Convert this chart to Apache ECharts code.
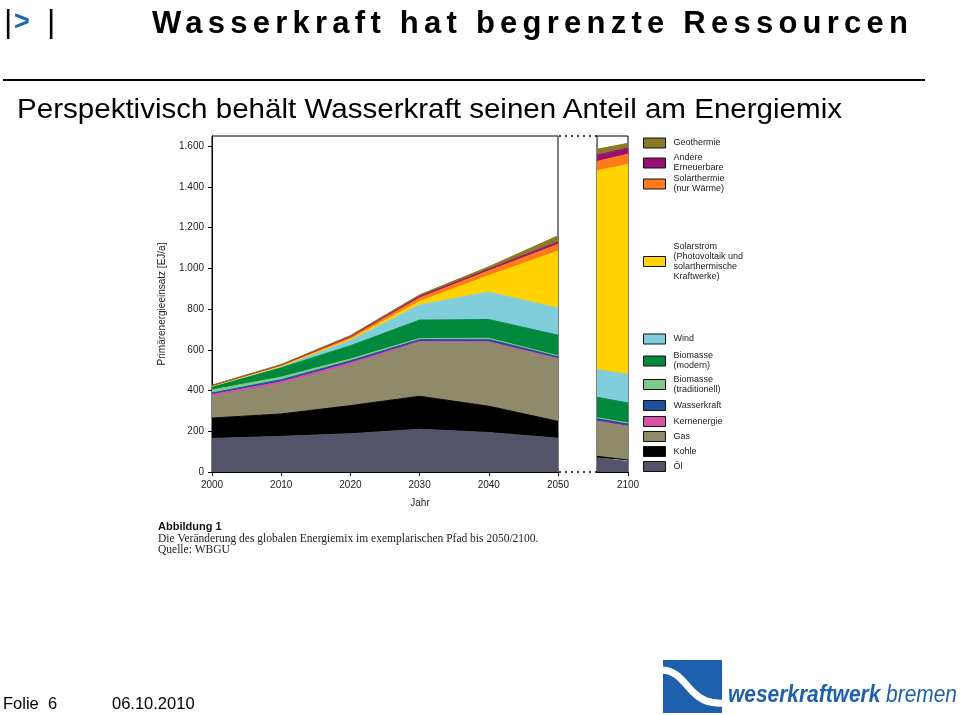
<!DOCTYPE html>
<html><head><meta charset="utf-8">
<script src="https://cdn.jsdelivr.net/npm/echarts@6/dist/echarts.min.js"></script>
<style>
html,body{margin:0;padding:0;background:#fff;width:960px;height:715px;overflow:hidden;}
#chart{position:absolute;left:0;top:0;width:960px;height:715px;}
.t{position:absolute;white-space:nowrap;color:#000;line-height:1;transform-origin:0 0;}
</style></head><body>
<div id="chart"></div>
<div class="t" style="left:4px;top:3px;font:32px 'Liberation Sans';">|</div>
<div class="t" style="left:14px;top:6px;font:bold 27px 'Liberation Sans';color:#1e63b8;">&gt;</div>
<div class="t" style="left:47px;top:3px;font:32px 'Liberation Sans';">|</div>
<div class="t" id="title" style="left:152px;top:5px;font:bold 31px 'Liberation Sans Narrow','Liberation Sans';">Wasserkraft hat begrenzte Ressourcen</div>
<div style="position:absolute;left:3px;top:79px;width:922px;height:2px;background:#000;"></div>
<div class="t" id="sub" style="left:17px;top:93px;font:28px 'Liberation Sans Narrow','Liberation Sans';">Perspektivisch behält Wasserkraft seinen Anteil am Energiemix</div>
<div class="t" id="folie" style="left:3px;top:694px;font:16.5px 'Liberation Sans';">Folie&nbsp; 6</div>
<div class="t" id="datum" style="left:112px;top:694px;font:16.5px 'Liberation Sans';">06.10.2010</div>
<svg style="position:absolute;left:663px;top:660px;" width="60" height="54" viewBox="0 0 60 54">
  <rect x="0" y="0" width="59" height="53" fill="#1e5fae"/>
  <path d="M-2,10 C14,10 20,22 30,32 C38,40 46,44 62,43" stroke="#fff" stroke-width="7" fill="none"/>
</svg>
<div class="t" id="logo" style="left:728px;top:680px;font:italic 24px 'Liberation Sans';color:#1e5fae;"><b>weserkraftwerk</b> bremen</div>
<script>
// ---- data (EJ/a per energy source) ----
const years = ['2000', '2010', '2020', '2030', '2040', '2050'];
const yearsLate = ['2095', '2100'];

const oel           = [165, 175, 188, 210, 194, 166];
const kohle         = [100, 110, 138, 162, 129, 83];
const gas           = [105, 147, 199, 264, 315, 307];
const kernenergie   = [10, 11, 11, 5, 2, 1];
const wasserkraft   = [8, 10, 10, 10, 12, 12];
const bioTrad       = [15, 13, 9, 5, 5, 2];
const bioModern     = [17, 46, 65, 90, 92, 101];
const wind          = [1, 5, 25, 74, 134, 133];
const solarstrom    = [1, 2, 7, 18, 82, 280];
const solarthermie  = [2, 5, 10, 17, 23, 33];
const andere        = [1, 2, 3, 7, 8, 12];
const geothermie    = [1, 2, 5, 8, 12, 30];

const oelLate          = [69, 52];
const kohleLate        = [8, 7];
const gasLate          = [172, 165];
const kernenergieLate  = [1, 1];
const wasserkraftLate  = [14, 13];
const bioTradLate      = [3, 3];
const bioModernLate    = [100, 98];
const windLate         = [136, 140];
const solarstromLate   = [976, 1032];
const solarthermieLate = [46, 50];
const andereLate       = [32, 29];
const geothermieLate   = [28, 24];

const yTicks = [0, 200, 400, 600, 800, 1000, 1200, 1400, 1600];

// stacking order bottom -> top; h = half height of legend slot, shift = downward text offset
const sources = [
  {name:'Öl', label:'Öl', color:'#53546a', d:oel, l:oelLate, h:7.5},
  {name:'Kohle', label:'Kohle', color:'#000000', d:kohle, l:kohleLate, h:7.5},
  {name:'Gas', label:'Gas', color:'#8f8a69', d:gas, l:gasLate, h:7.5},
  {name:'Kernenergie', label:'Kernenergie', color:'#d94fa6', d:kernenergie, l:kernenergieLate, h:7.5},
  {name:'Wasserkraft', label:'Wasserkraft', color:'#1f4e9c', d:wasserkraft, l:wasserkraftLate, h:8.5},
  {name:'Biomasse (traditionell)', label:'Biomasse\n(traditionell)', color:'#7fc98a', d:bioTrad, l:bioTradLate, h:12.5},
  {name:'Biomasse (modern)', label:'Biomasse\n(modern)', color:'#00883c', d:bioModern, l:bioModernLate, h:11},
  {name:'Wind', label:'Wind', color:'#80cddc', d:wind, l:windLate, h:11},
  {name:'Solarstrom', label:'Solarstrom\n(Photovoltaik und\nsolarthermische\nKraftwerke)', color:'#ffd200', d:solarstrom, l:solarstromLate, h:66.5, shift:10},
  {name:'Solarthermie', label:'Solarthermie\n(nur Wärme)', color:'#ff7a1a', d:solarthermie, l:solarthermieLate, h:11},
  {name:'Andere Erneuerbare', label:'Andere\nErneuerbare', color:'#9b0e74', d:andere, l:andereLate, h:10},
  {name:'Geothermie', label:'Geothermie', color:'#8a7a25', d:geothermie, l:geothermieLate, h:10}
];

const fmt = v => v >= 1000 ? Math.floor(v/1000) + '.' + String(v % 1000).padStart(3, '0') : String(v);

const series = [];
sources.forEach(s => {
  const mk = () => ({type:'line', name:s.name, showSymbol:false, symbol:'none', silent:true,
    lineStyle:{width:1, color:s.color}, areaStyle:{color:s.color, opacity:1}, itemStyle:{color:s.color}});
  series.push(Object.assign(mk(), {xAxisIndex:0, yAxisIndex:0, stack:'main', data: s.d.slice()}));
  series.push(Object.assign(mk(), {xAxisIndex:1, yAxisIndex:1, stack:'late', data: s.l.slice()}));
});

const LH = 10;
const labelMap = {};
const legendData = sources.slice().reverse().map(s => {
  labelMap[s.name] = s.label;
  const n = s.label.split('\n').length;
  const extra = 2*s.h - LH*n;
  const sh = s.shift || 0;
  const pt = extra/2 + sh, pb = extra/2 - sh;
  return {name:s.name, textStyle:{padding:[pt, 0, pb, 3], backgroundColor:'rgba(255,255,255,0)'}};
});

const axisLineStyle = {color:'#000', width:1};
const labelStyle = {fontFamily:'Liberation Sans', fontSize:10, color:'#222'};
const only2100 = (i, v) => v === '2100';

const option = {
  animation:false,
  backgroundColor:'transparent',
  grid:[
    {left:212, top:136, width:346, height:336, show:true, borderColor:'#000', borderWidth:1, backgroundColor:'transparent', outerBoundsMode:'none'},
    {left:597, top:136, width:31, height:336, show:true, borderColor:'#000', borderWidth:1, backgroundColor:'transparent', outerBoundsMode:'none'}
  ],
  xAxis:[
    {type:'category', gridIndex:0, data:years, boundaryGap:false,
      axisLine:{lineStyle:axisLineStyle}, axisTick:{length:4, lineStyle:axisLineStyle},
      axisLabel:Object.assign({margin:8, interval:0}, labelStyle), splitLine:{show:false}},
    {type:'category', gridIndex:1, data:yearsLate, boundaryGap:false,
      axisLine:{lineStyle:axisLineStyle},
      axisTick:{length:4, lineStyle:axisLineStyle, interval:only2100},
      axisLabel:Object.assign({margin:8, interval:only2100}, labelStyle), splitLine:{show:false}}
  ],
  yAxis:[
    {type:'value', gridIndex:0, min:0, max:1650,
      name:'Primärenergieeinsatz [EJ/a]', nameLocation:'middle', nameGap:45, nameRotate:90,
      nameTextStyle:{fontFamily:'Liberation Sans', fontSize:10, color:'#222'},
      axisLine:{show:true, lineStyle:axisLineStyle},
      axisTick:{show:true, length:4, lineStyle:axisLineStyle, customValues:yTicks},
      axisLabel:Object.assign({margin:8, formatter:fmt, customValues:yTicks}, labelStyle),
      splitLine:{show:false}},
    {type:'value', gridIndex:1, min:0, max:1650, show:false, splitLine:{show:false}}
  ],
  legend:{
    show:true, left:643, top:133, padding:0, orient:'vertical', icon:'rect', itemGap:0,
    itemWidth:22, itemHeight:10, selectedMode:false, data:legendData,
    formatter: name => labelMap[name],
    textStyle:{fontFamily:'Liberation Sans', fontSize:9, lineHeight:LH, color:'#222'},
    itemStyle:{borderColor:'#111', borderWidth:1}
  },
  series: series,
  graphic:[
    {type:'line', shape:{x1:559, y1:136, x2:597, y2:136}, style:{stroke:'#000', lineWidth:1.5, lineDash:[2,4]}},
    {type:'line', shape:{x1:559, y1:472, x2:597, y2:472}, style:{stroke:'#000', lineWidth:1.5, lineDash:[2,4]}},
    {type:'text', style:{x:420, y:503, text:'Jahr', align:'center', verticalAlign:'middle', font:'10px "Liberation Sans"', fill:'#222'}},
    {type:'text', style:{x:158, y:526.5, text:'Abbildung 1', verticalAlign:'middle', font:'bold 11px "Liberation Sans"', fill:'#111'}},
    {type:'text', style:{x:158, y:538.5, text:'Die Veränderung des globalen Energiemix im exemplarischen Pfad bis 2050/2100.', verticalAlign:'middle', font:'11.5px "Liberation Serif"', fill:'#222'}},
    {type:'text', style:{x:158, y:550, text:'Quelle: WBGU', verticalAlign:'middle', font:'11.5px "Liberation Serif"', fill:'#222'}}
  ]
};

const chart = echarts.init(document.getElementById('chart'), null, {renderer:'canvas'});
chart.setOption(option);

// fit slide texts to measured widths of the original
function fitScale(id, w){ const el=document.getElementById(id); const r=el.getBoundingClientRect().width; el.style.transform='scaleX('+(w/r)+')'; }
function fitSpacing(id, w){ const el=document.getElementById(id); const r=el.getBoundingClientRect().width; const n=el.textContent.length; el.style.letterSpacing=((w-r)/(n-1))+'px'; }
fitSpacing('title', 756);
fitScale('sub', 825);
fitScale('logo', 229);
</script>
</body></html>
